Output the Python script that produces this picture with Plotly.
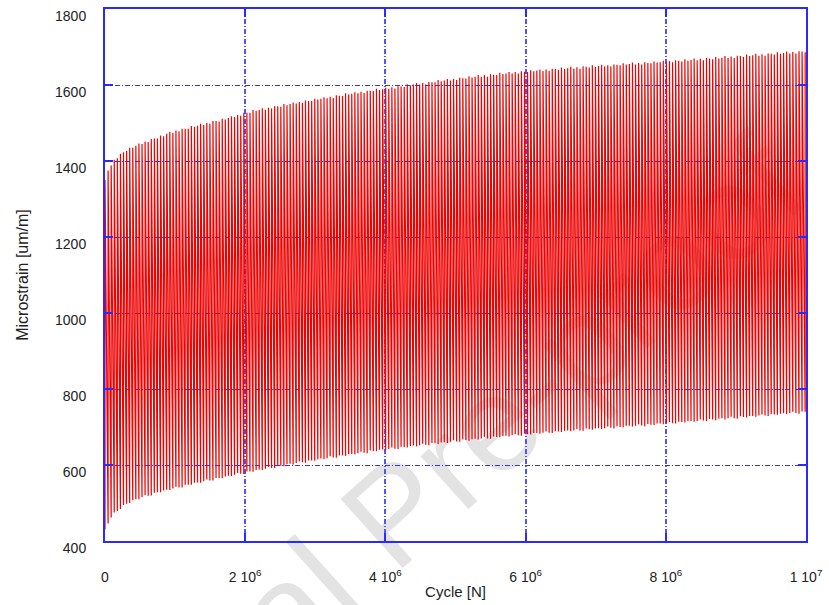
import plotly.graph_objects as go

# Recording positions (in thousands of cycles); at each one the gauge swings
# between a minimum and a maximum microstrain value.
RECORD_KCYCLE = [
    0, 44, 88, 132, 176, 220, 264, 308, 352, 396,
    440, 484, 528, 572, 616, 660, 704, 748, 792, 836,
    880, 924, 968, 1012, 1056, 1100, 1144, 1188, 1232, 1276,
    1320, 1364, 1408, 1452, 1496, 1540, 1584, 1628, 1672, 1716,
    1760, 1804, 1848, 1892, 1936, 1980, 2024, 2068, 2112, 2156,
    2200, 2244, 2288, 2332, 2376, 2420, 2464, 2508, 2552, 2596,
    2640, 2684, 2728, 2772, 2816, 2860, 2904, 2948, 2992, 3036,
    3080, 3124, 3168, 3212, 3256, 3300, 3344, 3388, 3432, 3476,
    3520, 3564, 3608, 3652, 3696, 3740, 3784, 3828, 3872, 3916,
    3960, 4004, 4048, 4092, 4136, 4180, 4224, 4268, 4312, 4356,
    4400, 4444, 4488, 4532, 4576, 4620, 4664, 4708, 4752, 4796,
    4840, 4884, 4928, 4972, 5016, 5060, 5104, 5148, 5192, 5236,
    5280, 5324, 5368, 5412, 5456, 5500, 5544, 5588, 5632, 5676,
    5720, 5764, 5808, 5852, 5896, 5940, 5984, 6028, 6072, 6116,
    6160, 6204, 6248, 6292, 6336, 6380, 6424, 6468, 6512, 6556,
    6600, 6644, 6688, 6732, 6776, 6820, 6864, 6908, 6952, 6996,
    7040, 7084, 7128, 7172, 7216, 7260, 7304, 7348, 7392, 7436,
    7480, 7524, 7568, 7612, 7656, 7700, 7744, 7788, 7832, 7876,
    7920, 7964, 8008, 8052, 8096, 8140, 8184, 8228, 8272, 8316,
    8360, 8404, 8448, 8492, 8536, 8580, 8624, 8668, 8712, 8756,
    8800, 8844, 8888, 8932, 8976, 9020, 9064, 9108, 9152, 9196,
    9240, 9284, 9328, 9372, 9416, 9460, 9504, 9548, 9592, 9636,
    9680, 9724, 9768, 9812, 9856, 9900, 9944, 9988,
]
MIN_STRAIN = [
    431, 446, 462, 475, 479, 484, 495, 498, 500, 507,
    510, 510, 515, 521, 519, 520, 527, 528, 528, 533,
    535, 534, 538, 543, 541, 541, 548, 548, 548, 553,
    554, 553, 557, 562, 559, 559, 566, 566, 565, 570,
    572, 571, 574, 579, 577, 576, 583, 583, 582, 587,
    588, 587, 590, 595, 592, 592, 598, 598, 597, 602,
    603, 601, 605, 609, 607, 606, 612, 612, 611, 615,
    617, 615, 618, 623, 620, 619, 625, 625, 624, 628,
    629, 628, 631, 635, 632, 631, 638, 637, 636, 640,
    641, 639, 642, 646, 643, 642, 648, 647, 646, 650,
    651, 649, 652, 656, 653, 652, 658, 657, 655, 659,
    660, 658, 661, 665, 662, 661, 667, 666, 664, 668,
    669, 667, 670, 674, 670, 669, 675, 674, 673, 676,
    677, 675, 678, 681, 678, 677, 683, 681, 680, 684,
    684, 682, 685, 688, 685, 684, 689, 688, 687, 690,
    691, 689, 691, 695, 691, 690, 696, 694, 693, 696,
    697, 695, 697, 701, 698, 696, 702, 700, 699, 703,
    703, 701, 703, 707, 704, 702, 708, 706, 705, 709,
    709, 707, 710, 713, 710, 709, 714, 713, 712, 715,
    716, 714, 716, 720, 717, 715, 721, 720, 718, 722,
    723, 720, 723, 727, 723, 722, 728, 726, 725, 729,
    729, 727, 730, 733, 730, 729, 734, 733, 732, 735,
    736, 734, 736, 740, 737, 735, 741, 740,
]
MAX_STRAIN = [
    1350, 1375, 1388, 1403, 1407, 1419, 1423, 1426, 1435, 1435,
    1440, 1446, 1445, 1451, 1450, 1458, 1459, 1459, 1467, 1465,
    1472, 1477, 1474, 1480, 1478, 1485, 1485, 1485, 1492, 1490,
    1493, 1498, 1495, 1500, 1498, 1505, 1505, 1504, 1511, 1509,
    1513, 1518, 1516, 1521, 1519, 1527, 1527, 1527, 1534, 1532,
    1534, 1539, 1535, 1540, 1538, 1544, 1544, 1543, 1550, 1547,
    1550, 1554, 1551, 1555, 1553, 1559, 1558, 1558, 1564, 1562,
    1564, 1568, 1565, 1569, 1566, 1573, 1572, 1571, 1578, 1575,
    1577, 1581, 1578, 1582, 1579, 1585, 1585, 1584, 1590, 1587,
    1589, 1593, 1590, 1594, 1591, 1597, 1596, 1595, 1602, 1599,
    1601, 1605, 1601, 1605, 1602, 1608, 1607, 1607, 1613, 1610,
    1612, 1616, 1612, 1616, 1613, 1619, 1618, 1617, 1623, 1620,
    1622, 1626, 1622, 1626, 1622, 1628, 1627, 1626, 1632, 1629,
    1630, 1634, 1630, 1634, 1630, 1636, 1635, 1634, 1639, 1636,
    1638, 1641, 1637, 1641, 1637, 1643, 1642, 1640, 1646, 1642,
    1644, 1648, 1643, 1647, 1643, 1649, 1648, 1646, 1652, 1648,
    1650, 1653, 1649, 1652, 1649, 1654, 1653, 1652, 1657, 1654,
    1655, 1659, 1654, 1658, 1654, 1660, 1658, 1657, 1662, 1659,
    1660, 1664, 1659, 1663, 1660, 1665, 1664, 1662, 1668, 1664,
    1666, 1670, 1665, 1669, 1665, 1671, 1670, 1668, 1674, 1670,
    1672, 1676, 1671, 1675, 1671, 1677, 1676, 1674, 1680, 1676,
    1678, 1682, 1677, 1681, 1677, 1683, 1682, 1680, 1686, 1682,
    1684, 1688, 1683, 1687, 1683, 1689, 1688, 1686,
]

X_TICKS = [0, 2000000, 4000000, 6000000, 8000000, 10000000]
X_TICKTEXT = ["0", "2 10<sup>6</sup>", "4 10<sup>6</sup>", "6 10<sup>6</sup>",
              "8 10<sup>6</sup>", "1 10<sup>7</sup>"]
Y_TICKS = [400, 600, 800, 1000, 1200, 1400, 1600, 1800]

assert len(RECORD_KCYCLE) == len(MIN_STRAIN) == len(MAX_STRAIN)

# build the oscillating signal: at each recording, a swing from min to max
cycle, strain = [], []
for kc, lo, hi in zip(RECORD_KCYCLE, MIN_STRAIN, MAX_STRAIN):
    cycle += [kc * 1000, kc * 1000]
    strain += [lo, hi]

BLUE = "#2a2aff"
FONT = "Liberation Sans, Arial, sans-serif"

fig = go.Figure()
fig.add_trace(go.Scatter(x=cycle, y=strain, mode="lines",
                         line=dict(color="#f00000", width=1.2),
                         showlegend=False, hoverinfo="skip"))

# faint watermark behind the data
fig.add_shape(type="rect", xref="paper", yref="paper",
              x0=0.30, x1=0.50, y0=0.02, y1=0.12,
              line=dict(width=0), fillcolor="rgba(0,0,0,0)", layer="below",
              label=dict(text="Journal Pre-proof", textangle=-42,
                         textposition="middle center",
                         font=dict(family=FONT, size=135, color="#e3e3e3")))

fig.update_layout(
    width=829, height=605,
    margin=dict(l=105, r=19, t=7, b=63),
    paper_bgcolor="white", plot_bgcolor="white",
    font=dict(family=FONT, size=14, color="#222222"),
    xaxis=dict(range=[0, 10000000], tickvals=X_TICKS, ticktext=X_TICKTEXT,
               showline=True, linecolor=BLUE, linewidth=2, mirror="ticks",
               ticks="inside", ticklen=8, tickcolor=BLUE, tickwidth=1.6,
               showgrid=True, gridcolor="#5252ff", griddash="5px,2px,1px,2px", gridwidth=1.6,
               zeroline=False, ticklabelstandoff=22,
               title=dict(text="Cycle [N]", font=dict(size=15), standoff=3)),
    yaxis=dict(range=[400, 1800], tickvals=Y_TICKS,
               showline=True, linecolor=BLUE, linewidth=2, mirror="ticks",
               ticks="inside", ticklen=8, tickcolor=BLUE, tickwidth=1.6,
               showgrid=True, gridcolor="#3434e6", griddash="5px,2px,1px,2px", gridwidth=1.4,
               zeroline=False, ticklabelstandoff=14, ticklabelshift=7,
               title=dict(text="Microstrain [um/m]", font=dict(size=16), standoff=22)),
)

fig.write_html("out.html")
